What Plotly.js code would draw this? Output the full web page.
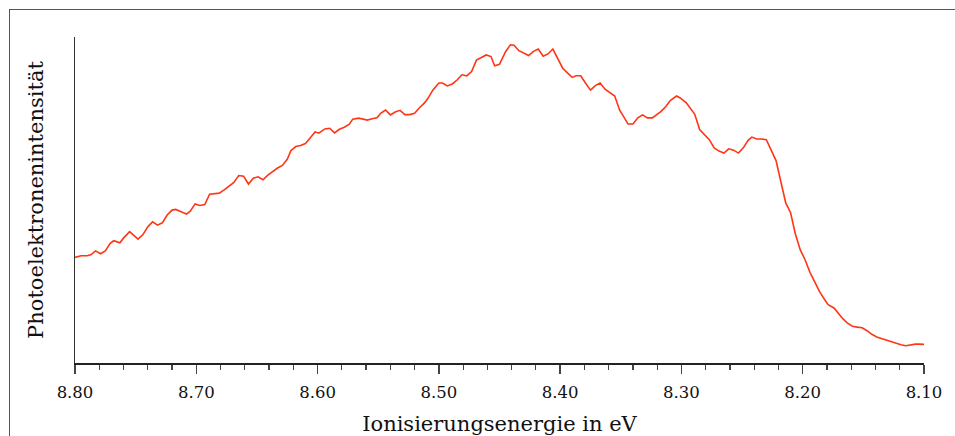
<!DOCTYPE html>
<html>
<head>
<meta charset="utf-8">
<script src="https://cdn.plot.ly/plotly-3.0.1.min.js"></script>
<style>
  html, body { margin: 0; padding: 0; background: #fff; }
  #wrap { position: relative; width: 955px; height: 436px; overflow: hidden; }
  #chart { position: absolute; left: 0; top: 0; width: 955px; height: 436px; }
  #frame { position: absolute; left: 9px; top: 9px; width: 1200px; height: 1200px;
           border-left: 1.5px solid #555; border-top: 1.5px solid #555; pointer-events: none; }
</style>
</head>
<body>
<div id="wrap">
  <div id="chart"></div>
  <div id="frame"></div>
</div>
<script>
// Ionisierungsenergie (eV)
const energy = [
  8.800, 8.795, 8.790, 8.787, 8.783, 8.779, 8.775, 8.771, 8.768, 8.763,
  8.760, 8.755, 8.751, 8.748, 8.744, 8.740, 8.736, 8.732, 8.728, 8.724,
  8.720, 8.717, 8.712, 8.708, 8.705, 8.701, 8.697, 8.693, 8.689, 8.685,
  8.681, 8.677, 8.673, 8.669, 8.665, 8.661, 8.657, 8.653, 8.649, 8.645,
  8.641, 8.637, 8.633, 8.629, 8.625, 8.622, 8.618, 8.614, 8.610, 8.606,
  8.602, 8.599, 8.594, 8.590, 8.586, 8.582, 8.578, 8.574, 8.571, 8.566,
  8.563, 8.559, 8.555, 8.551, 8.548, 8.544, 8.540, 8.536, 8.532, 8.528,
  8.524, 8.520, 8.516, 8.512, 8.509, 8.505, 8.500, 8.497, 8.493, 8.489,
  8.485, 8.481, 8.477, 8.473, 8.469, 8.465, 8.461, 8.457, 8.454, 8.450,
  8.445, 8.441, 8.438, 8.434, 8.430, 8.426, 8.422, 8.418, 8.414, 8.410,
  8.406, 8.402, 8.398, 8.394, 8.390, 8.387, 8.383, 8.379, 8.375, 8.371,
  8.367, 8.363, 8.359, 8.355, 8.351, 8.347, 8.344, 8.340, 8.336, 8.332,
  8.328, 8.324, 8.320, 8.317, 8.313, 8.309, 8.304, 8.301, 8.296, 8.293,
  8.289, 8.285, 8.281, 8.277, 8.273, 8.269, 8.265, 8.261, 8.257, 8.253,
  8.249, 8.245, 8.242, 8.238, 8.234, 8.230, 8.226, 8.222, 8.218, 8.214,
  8.210, 8.206, 8.202, 8.198, 8.194, 8.190, 8.186, 8.182, 8.179, 8.174,
  8.171, 8.167, 8.163, 8.159, 8.155, 8.151, 8.147, 8.143, 8.139, 8.135,
  8.131, 8.127, 8.123, 8.119, 8.115, 8.111, 8.107, 8.104, 8.100
];
// Photoelektronenintensität (willkürliche Einheiten)
const intensity = [
  32.4, 32.9, 32.9, 33.2, 34.4, 33.5, 34.4, 36.7, 37.5, 36.9,
  38.3, 40.3, 39.0, 38.0, 39.4, 41.8, 43.3, 42.3, 43.0, 45.4,
  46.9, 47.1, 46.3, 45.7, 46.6, 48.8, 48.3, 48.6, 51.8, 51.9,
  52.1, 53.1, 54.3, 55.4, 57.5, 57.3, 54.9, 56.7, 57.1, 56.2,
  57.6, 58.8, 59.8, 60.6, 62.5, 65.1, 66.4, 66.7, 67.3, 69.1,
  70.9, 70.5, 71.8, 72.0, 70.6, 71.7, 72.3, 73.2, 74.8, 75.1,
  74.8, 74.5, 74.9, 75.2, 76.6, 77.6, 76.1, 77.0, 77.5, 76.2,
  76.2, 76.6, 78.3, 79.7, 81.2, 83.7, 85.9, 85.9, 85.0, 85.6,
  86.8, 88.4, 88.1, 89.4, 92.9, 93.6, 94.5, 94.0, 91.2, 91.6,
  95.5, 97.6, 97.5, 95.8, 95.0, 94.3, 95.6, 96.3, 94.1, 94.8,
  96.3, 93.5, 90.5, 89.0, 87.6, 88.1, 88.1, 85.8, 83.7, 85.1,
  85.9, 84.0, 83.0, 81.9, 77.6, 75.3, 73.3, 73.3, 75.2, 76.1,
  75.2, 75.2, 76.3, 77.1, 78.6, 80.6, 81.9, 81.3, 79.8, 78.4,
  76.3, 71.6, 70.0, 68.5, 66.0, 65.0, 64.4, 65.7, 65.3, 64.4,
  66.0, 68.3, 69.3, 68.7, 68.7, 68.5, 65.3, 62.1, 55.6, 49.1,
  46.1, 39.5, 34.7, 31.6, 27.8, 24.6, 21.8, 19.5, 17.9, 16.8,
  15.4, 13.6, 12.2, 11.3, 11.0, 10.8, 9.9, 8.8, 8.0, 7.5,
  7.1, 6.5, 6.0, 5.6, 5.3, 5.6, 5.8, 5.8, 5.7
];
const xTitle = "Ionisierungsenergie in eV";
const yTitle = "Photoelektronenintensität";
const xRange = [8.80, 8.10];
const yRange = [0, 100];

const font = "DejaVu Serif, Liberation Serif, serif";

Plotly.newPlot("chart", [{
  x: energy,
  y: intensity,
  type: "scatter",
  mode: "lines",
  line: { color: "#ff3514", width: 1.6 },
  hoverinfo: "skip"
}], {
  width: 955,
  height: 436,
  margin: { l: 75, r: 31, t: 37, b: 73 },
  paper_bgcolor: "#ffffff",
  plot_bgcolor: "#ffffff",
  showlegend: false,
  font: { family: font, color: "#111" },
  xaxis: {
    range: xRange,
    autorange: false,
    showgrid: false,
    zeroline: false,
    showline: true,
    linecolor: "#222",
    linewidth: 1.5,
    ticks: "outside",
    ticklen: 9,
    tickwidth: 1.5,
    tickcolor: "#444",
    dtick: 0.1,
    tick0: 8.1,
    tickformat: ".2f",
    ticklabelstandoff: 5,
    tickfont: { family: font, size: 16.5, color: "#111" },
    minor: { dtick: 0.02, ticks: "outside", ticklen: 5, tickwidth: 1.2, tickcolor: "#444", showgrid: false },
    title: { text: xTitle, font: { family: font, size: 21, color: "#111" }, standoff: 17 }
  },
  yaxis: {
    range: yRange,
    autorange: false,
    showgrid: false,
    zeroline: false,
    showline: true,
    linecolor: "#333",
    linewidth: 1.5,
    ticks: "",
    showticklabels: false,
    title: { text: yTitle, font: { family: font, size: 21, color: "#111" }, standoff: 24 }
  }
}, { staticPlot: true, displayModeBar: false });
</script>
</body>
</html>
